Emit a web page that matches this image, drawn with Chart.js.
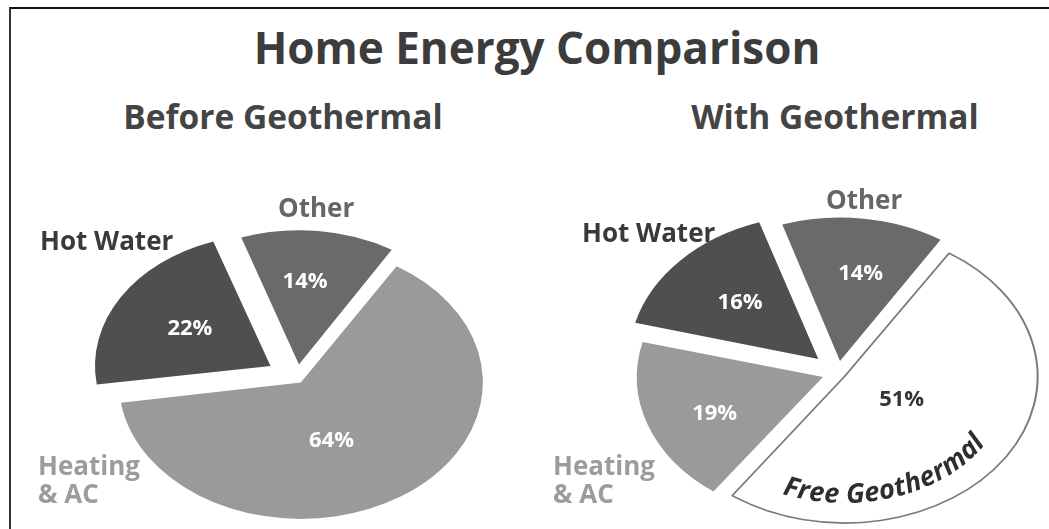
<!DOCTYPE html>
<html>
<head>
<meta charset="utf-8">
<script src="https://cdn.jsdelivr.net/npm/chart.js@4.4.1/dist/chart.umd.min.js"></script>
<style>
  html, body { margin: 0; padding: 0; background: #fff; width: 1049px; height: 529px; overflow: hidden; font-family: "Open Sans", sans-serif; }
  #frame { position: absolute; left: 9px; top: 7px; width: 1100px; height: 600px; border-top: 2px solid #111; border-left: 2px solid #333; }
  .t { position: absolute; font-weight: 700; white-space: nowrap; }
  #title { left: 0; width: 1074px; text-align: center; top: 22px; font-size: 44px; line-height: 50px; color: #3c3c3c; }
  .sub { width: 500px; text-align: center; top: 96px; font-size: 33.5px; line-height: 40px; color: #444; }
  .lbl { font-size: 26px; line-height: 28px; }
  canvas { position: absolute; left: 0; top: 0; }
</style>
</head>
<body>
<div id="frame"></div>
<div id="title" class="t">Home Energy Comparison</div>
<div class="t sub" style="left:33px">Before Geothermal</div>
<div class="t sub" style="left:585px">With Geothermal</div>
<canvas id="before" width="1049" height="529"></canvas>
<canvas id="after" width="1049" height="529"></canvas>
<script>
// Data
const beforeLabels = ['Other', 'Heating & AC', 'Hot Water'];
const beforeValues = [14, 64, 22];
const withLabels = ['Other', 'Free Geothermal', 'Heating & AC', 'Hot Water'];
const withValues = [14, 51, 19, 16];

// Styles by category
const fillOf = { 'Other': '#6a6a6a', 'Heating & AC': '#9a9a9a', 'Hot Water': '#4f4f4f', 'Free Geothermal': '#ffffff' };
const textOf = { 'Other': '#666', 'Heating & AC': '#9c9c9c', 'Hot Water': '#3a3a3a' };

// Squash the pie into an ellipse
const squash = {
  id: 'squash',
  beforeDatasetsDraw(chart, args, opts) {
    const a = chart.getDatasetMeta(0).data[0];
    const ctx = chart.ctx;
    ctx.save();
    ctx.translate(a.x, a.y);
    ctx.scale(1, opts.k);
    ctx.translate(-a.x, -a.y);
  },
  afterDatasetsDraw(chart) { chart.ctx.restore(); }
};

// Percent labels inside slices + curved label
const sliceText = {
  id: 'sliceText',
  afterDraw(chart, args, opts) {
    const ctx = chart.ctx;
    const ds = chart.data.datasets[0];
    const meta = chart.getDatasetMeta(0);
    const k = chart.options.plugins.squash.k;
    ctx.save();
    ctx.font = '700 22px "Open Sans"';
    ctx.textAlign = 'center';
    ctx.textBaseline = 'middle';
    meta.data.forEach((arc, i) => {
      const mid = (arc.startAngle + arc.endAngle) / 2;
      const off = ds.offset[i] / 4;
      const a = mid + (opts.shift[i] || 0) * Math.PI / 180;
      const d = arc.outerRadius * opts.radius[i];
      const x = arc.x + Math.cos(mid) * off + Math.cos(a) * d;
      const y = arc.y + (Math.sin(mid) * off + Math.sin(a) * d) * k;
      ctx.fillStyle = opts.colors[i];
      ctx.fillText(ds.data[i] + '%', x, y);
    });

    if (opts.curved) {
      const c = opts.curved;
      const arc = meta.data[c.index];
      const mid = (arc.startAngle + arc.endAngle) / 2;
      const off = ds.offset[c.index] / 4;
      const cx = arc.x + Math.cos(mid) * off, cy = arc.y + Math.sin(mid) * off * k;
      const R = arc.outerRadius * c.rf;
      const text = chart.data.labels[c.index];
      ctx.font = c.font;
      ctx.fillStyle = c.color;
      ctx.textBaseline = 'alphabetic';
      const speed = t => R * Math.sqrt(Math.sin(t) ** 2 + k * k * Math.cos(t) ** 2);
      const adv = ch => ctx.measureText(ch).width + c.spacing;
      const total = [...text].reduce((s, ch) => s + adv(ch), 0);
      const dt = 0.001;
      let t = c.center * Math.PI / 180, s = total / 2;
      while (s > 0) { t += dt; s -= speed(t) * dt; }
      for (const ch of text) {
        const w = adv(ch);
        let h = w / 2;
        while (h > 0) { t -= dt; h -= speed(t) * dt; }
        ctx.save();
        ctx.translate(cx + R * Math.cos(t), cy + R * k * Math.sin(t));
        ctx.rotate(Math.atan2(-k * Math.cos(t), Math.sin(t)));
        ctx.fillText(ch, 0, 0);
        ctx.restore();
        h = w / 2;
        while (h > 0) { t -= dt; h -= speed(t) * dt; }
      }
    }
    ctx.restore();
  }
};

function makePie(id, labels, values, cfg) {
  return new Chart(document.getElementById(id), {
    type: 'pie',
    data: {
      labels,
      datasets: [{
        data: values,
        backgroundColor: labels.map(l => fillOf[l]),
        borderColor: labels.map(l => l === 'Free Geothermal' ? '#7a7a7a' : 'rgba(0,0,0,0)'),
        borderWidth: labels.map(l => l === 'Free Geothermal' ? 2 : 0),
        offset: cfg.offset,
        radius: cfg.r
      }]
    },
    options: {
      responsive: false,
      animation: false,
      rotation: cfg.rotation,
      layout: { padding: cfg.padding },
      plugins: {
        legend: { display: false },
        tooltip: { enabled: false },
        squash: { k: cfg.k },
        sliceText: cfg.text
      }
    },
    plugins: [squash, sliceText]
  });
}

// center (297, 378)
makePie('before', beforeLabels, beforeValues, {
  r: 175, k: 0.75, rotation: -19,
  offset: [72, 28, 124],
  padding: { left: 0, right: 455, top: 227, bottom: 0 },
  text: { radius: [0.63, 0.48, 0.54], shift: [-3, 12, 0], colors: ['#fff', '#fff', '#fff'] }
});

// center (838, 373)
makePie('after', withLabels, withValues, {
  r: 185, k: 0.76, rotation: -18,
  offset: [64, 32, 64, 108],
  padding: { left: 627, right: 0, top: 217, bottom: 0 },
  text: {
    radius: [0.63, 0.35, 0.64, 0.58], shift: [3, -6, -4, 0], colors: ['#fff', '#333', '#fff', '#fff'],
    curved: { index: 1, rf: 0.9, center: 74, spacing: 0.3, font: 'italic 700 27px "Open Sans"', color: '#2e2e2e' }
  }
});

// Outer category labels (HTML text)
const outerPos = {
  before: { 'Hot Water': [40, 226], 'Other': [278, 193], 'Heating & AC': [38, 451] },
  after: { 'Hot Water': [582, 218], 'Other': [826, 185], 'Heating & AC': [553, 451] }
};
function addLabels(key, labels) {
  labels.forEach(l => {
    const p = outerPos[key][l];
    if (!p) return;
    const d = document.createElement('div');
    d.className = 't lbl';
    d.style.left = p[0] + 'px';
    d.style.top = p[1] + 'px';
    d.style.color = textOf[l];
    d.innerHTML = l === 'Heating & AC' ? 'Heating<br>&amp; AC' : l;
    document.body.appendChild(d);
  });
}
addLabels('before', beforeLabels);
addLabels('after', withLabels);
</script>
</body>
</html>
